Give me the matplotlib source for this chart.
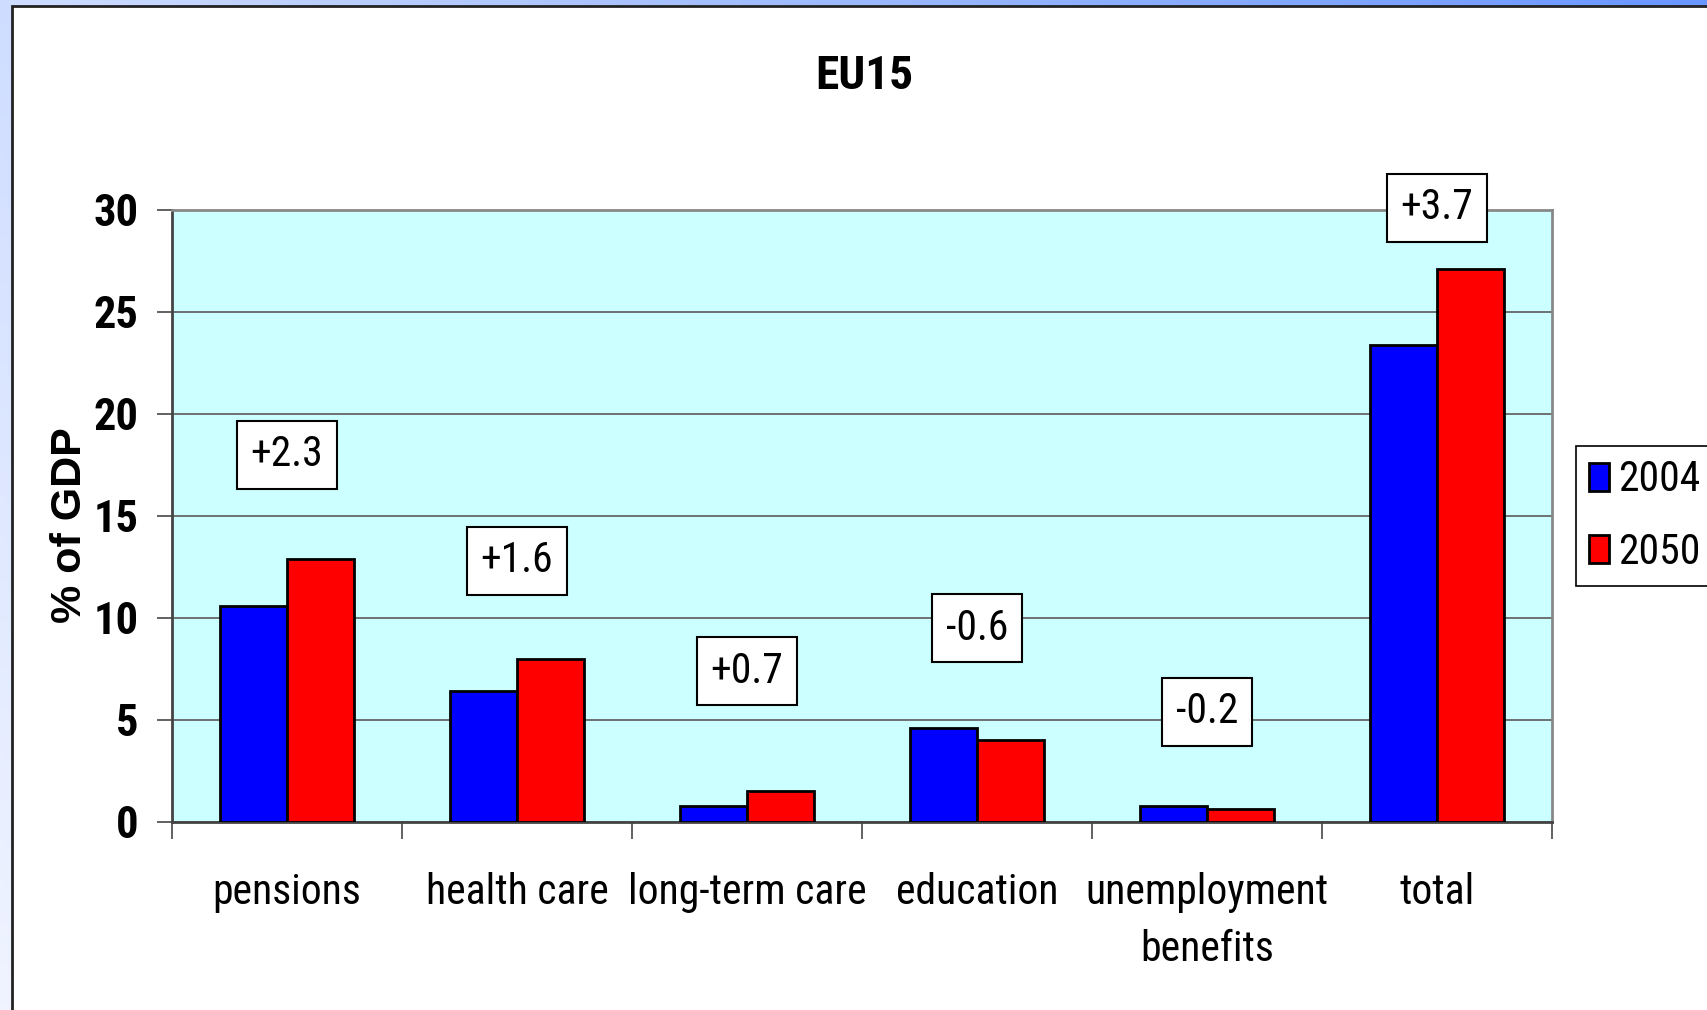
import numpy as np
import matplotlib
matplotlib.use("Agg")
import matplotlib.pyplot as plt
from matplotlib import font_manager
from matplotlib.patches import Rectangle

categories = ["pensions", "health care", "long-term care", "education",
              "unemployment\nbenefits", "total"]
years = ["2004", "2050"]
val_2004 = [10.6, 6.4, 0.8, 4.6, 0.8, 23.4]
val_2050 = [12.9, 8.0, 1.5, 4.0, 0.65, 27.1]
changes = ["+2.3", "+1.6", "+0.7", "-0.6", "-0.2", "+3.7"]
change_y = [18.0, 12.8, 7.4, 9.5, 5.4, 30.1]

# look for a narrow face like the Arial Narrow of the original
fonts = font_manager.fontManager.ttflist
names = {f.name for f in fonts}
narrow = None
for cand in ["Liberation Sans Narrow", "Roboto Condensed", "Open Sans Condensed",
             "DejaVu Sans Condensed", "Noto Sans Condensed"]:
    if cand in names:
        narrow = cand
        break
if narrow is None:
    for f in fonts:
        if "Narrow" in f.name or "Condensed" in f.name:
            narrow = f.name
            break
stretch = "normal"
if narrow is None:
    if any(f.name == "DejaVu Sans" and f.stretch in ("condensed", "semi-condensed") for f in fonts):
        narrow, stretch = "DejaVu Sans", "condensed"
if narrow is None:
    narrow = "Liberation Sans"
    scale = 0.82
else:
    scale = 1.0
plt.rcParams["font.family"] = [narrow, "DejaVu Sans"]
plt.rcParams["font.stretch"] = stretch

W, H = 1708, 1010
fig = plt.figure(figsize=(W / 100, H / 100), dpi=100)

# bluish gradient behind the white slide panel
bg = fig.add_axes([0, 0, 1, 1], zorder=-10)
gx, gy = np.meshgrid(np.linspace(0, 1, 300), np.linspace(0, 1, 200))
d = np.clip(0.75 * gx + 0.25 * (1 - gy), 0, 1)[..., None]
light = np.array([240, 244, 255]) / 255
dark = np.array([105, 150, 255]) / 255
bg.imshow(light * (1 - d) + dark * d, aspect="auto", extent=[0, 1, 0, 1])
bg.axis("off")
fig.patches.append(Rectangle((12 / W, -0.01), 1.0, 1 - 6 / H + 0.01, transform=fig.transFigure,
                             facecolor="white", edgecolor="#222222", lw=2, zorder=-5))

ax = fig.add_axes([172 / W, 1 - 822 / H, 1380 / W, 612 / H], facecolor="#ccffff")
x = np.arange(len(categories))
w = 0.29
ax.bar(x - w / 2, val_2004, w, color="#0000ff", edgecolor="black", lw=2, label=years[0], zorder=3)
ax.bar(x + w / 2, val_2050, w, color="#ff0000", edgecolor="black", lw=2, label=years[1], zorder=3)

fs = 30 * scale
for i, t in enumerate(changes):
    ax.text(x[i], change_y[i], t, ha="center", va="center", fontsize=fs, zorder=5, clip_on=False,
            bbox=dict(boxstyle="square,pad=%.2f" % (0.32 / scale), fc="white", ec="black", lw=1.5))

ax.set_xlim(-0.5, len(categories) - 0.5)
ax.set_ylim(0, 30)
ax.set_yticks(range(0, 31, 5))
ax.set_yticklabels([str(v) for v in range(0, 31, 5)], fontsize=32 * scale, fontweight="bold")
ax.yaxis.grid(True, color="#666666", lw=1.3)
ax.set_axisbelow(True)

ax.set_xticks(np.arange(-0.5, len(categories), 1))
ax.set_xticklabels([])
ax.set_xticks(x, minor=True)
ax.set_xticklabels(categories, minor=True, fontsize=fs, linespacing=1.5)
ax.tick_params(axis="x", which="major", length=12, width=1.3, color="#555555")
ax.tick_params(axis="x", which="minor", length=0, pad=36)
ax.tick_params(axis="y", length=11, width=1.3, color="#555555", pad=13)

for s in ["left", "bottom"]:
    ax.spines[s].set_color("#444444")
    ax.spines[s].set_linewidth(2)
for s in ["top", "right"]:
    ax.spines[s].set_color("#888888")
    ax.spines[s].set_linewidth(2)

leg = ax.legend(loc="center left", bbox_to_anchor=(1576 / W, 1 - 516 / H), bbox_transform=fig.transFigure,
                fontsize=fs, frameon=True, fancybox=False, edgecolor="black", framealpha=1,
                handlelength=0.48 / scale, handleheight=0.65 / scale, handletextpad=0.2,
                labelspacing=0.75 / scale, borderpad=0.32 / scale, borderaxespad=0)
leg.get_frame().set_linewidth(1.2)

fig.text(864 / W, 1 - 76 / H, "EU15", ha="center", va="center", fontsize=34 * scale, fontweight="bold")
fig.text(70 / W, 1 - 525 / H, "% of GDP", rotation=90, ha="center", va="center", fontsize=31 * scale,
         fontweight="bold", family="Liberation Sans")

fig.savefig("out.png", dpi=100)
